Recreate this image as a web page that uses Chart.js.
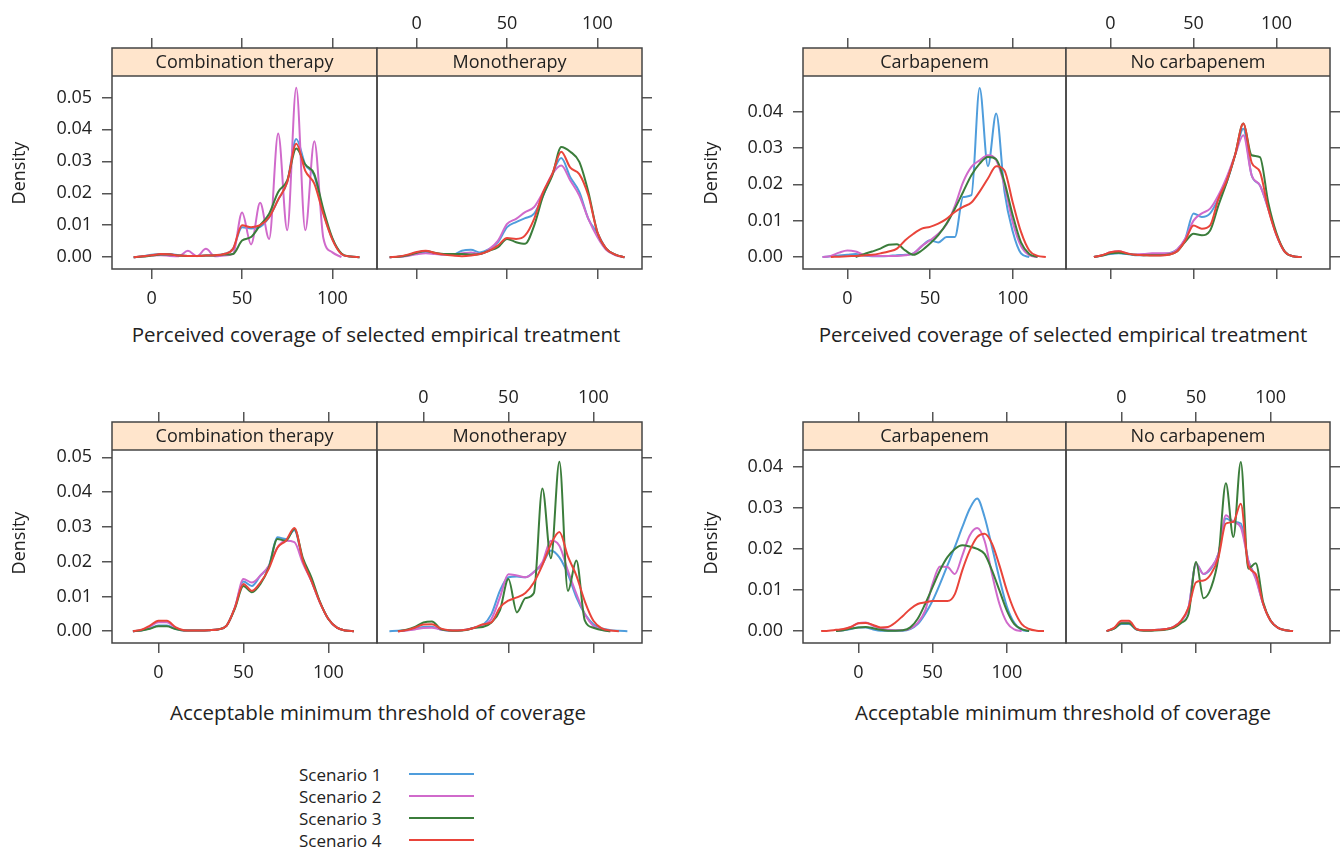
<!DOCTYPE html>
<html>
<head>
<meta charset="utf-8">
<script src="https://cdn.jsdelivr.net/npm/chart.js@4.4.1/dist/chart.umd.min.js"></script>
<style>
  body { margin:0; background:#fff; width:1343px; height:850px; position:relative; overflow:hidden;
         font-family:"Open Sans", sans-serif; color:#222; }
  canvas { position:absolute; }
  .txt { position:absolute; white-space:nowrap; transform:translate(-50%,-50%); }
  .title { font-size:20.5px; }
  .ylab { font-size:18px; transform:translate(-50%,-50%) rotate(-90deg); }
  .key { position:absolute; font-size:17px; white-space:nowrap; transform:translateY(-50%); }
  .keyline { position:absolute; width:65px; height:2px; }
</style>
</head>
<body>
<script>
  // ---- data ----
  const scenarios = ['Scenario 1', 'Scenario 2', 'Scenario 3', 'Scenario 4'];
  const colors = ['#4f9ddc', '#d06acb', '#3b7d3b', '#e9443a'];
  const stripTherapy = ['Combination therapy', 'Monotherapy'];
  const stripCarb = ['Carbapenem', 'No carbapenem'];
  const titlePerceived = 'Perceived coverage of selected empirical treatment';
  const titleAcceptable = 'Acceptable minimum threshold of coverage';
  const xTicks = [0, 50, 100];
  const yTicks5 = [0, 0.01, 0.02, 0.03, 0.04, 0.05];
  const yTicks4 = [0, 0.01, 0.02, 0.03, 0.04];

  // perceived coverage, combination therapy
  const xPercComb = [-10,-5,0,5,10,15,20,25,30,35,40,45,50,55,60,65,70,75,80,85,90,95,100,105,110,115];
  const percCombS1 = [0,0.0003,0.0008,0.001,0.001,0.0006,0.0004,0.0004,0.0005,0.0006,0.001,0.0026,0.0094,0.009,0.0095,0.0125,0.018,0.0235,0.037,0.029,0.0255,0.014,0.0057,0.001,0.0002,0];
  const percCombS2 = [0,0.0002,0.0005,0.0006,0.0004,0.0003,0.002,0.0003,0.0026,0.0003,0.0005,0.001,0.014,0.004,0.017,0.0057,0.0387,0.0084,0.053,0.0084,0.0363,0.006,0.0015,0,null,null];
  const percCombS3 = [0,0.0002,0.0005,0.0008,0.0008,0.0005,0.0004,0.0004,0.0005,0.0005,0.0008,0.001,0.0052,0.0063,0.01,0.0136,0.0204,0.024,0.034,0.029,0.026,0.015,0.006,0.0012,0.0002,0];
  const percCombS4 = [0,0.0003,0.0006,0.001,0.0009,0.0005,0.0004,0.0004,0.0005,0.0006,0.001,0.0026,0.01,0.0094,0.01,0.0125,0.018,0.0235,0.0355,0.027,0.023,0.0135,0.0055,0.001,0.0002,0];

  // perceived coverage, monotherapy
  const xPercMono = [-15,-10,-5,0,5,10,15,20,25,30,35,40,45,50,55,60,65,70,75,80,85,90,95,100,105,110,115];
  const percMonoS1 = [0,0.0001,0.0005,0.0012,0.0015,0.0012,0.0008,0.0008,0.002,0.0023,0.0015,0.0025,0.0047,0.0094,0.011,0.0122,0.0136,0.0193,0.026,0.031,0.025,0.0204,0.012,0.0075,0.0026,0.0008,0];
  const percMonoS2 = [0,0.0001,0.0004,0.0009,0.0012,0.001,0.0008,0.0008,0.0012,0.0015,0.001,0.0025,0.0052,0.0104,0.012,0.0141,0.0157,0.0204,0.026,0.0287,0.024,0.0193,0.012,0.0063,0.0022,0.0006,0];
  const percMonoS3 = [0,0.0001,0.0006,0.0014,0.0019,0.0014,0.001,0.001,0.001,0.0008,0.001,0.002,0.0031,0.0057,0.0047,0.0042,0.0099,0.0193,0.0255,0.0345,0.033,0.0298,0.0204,0.0078,0.0026,0.0008,0];
  const percMonoS4 = [0,0.0002,0.0008,0.0016,0.002,0.0013,0.0008,0.0005,0.0003,0.0005,0.001,0.002,0.0037,0.006,0.0057,0.0068,0.012,0.0204,0.026,0.033,0.028,0.026,0.0193,0.0078,0.0026,0.0008,0];

  // perceived coverage, carbapenem
  const xPercCarb = [-15,-10,-5,0,5,10,15,20,25,30,35,40,45,50,55,60,65,70,75,80,85,90,95,100,105,110,115,120];
  const percCarbS1 = [0,0.0002,0.0004,0.0006,0.0008,0.0004,0.0002,0.0002,0.0003,0.0005,0.0006,0.001,0.003,0.0046,0.004,0.0055,0.0055,0.0165,0.017,0.0465,0.025,0.0395,0.018,0.007,0.001,0,null,null];
  const percCarbS2 = [0,0.0003,0.0012,0.0018,0.0015,0.0006,0.0003,0.0003,0.0003,0.0003,0.0005,0.001,0.003,0.0046,0.0064,0.009,0.014,0.0206,0.0248,0.0266,0.028,0.0266,0.0197,0.0096,0.003,0.0005,0,null];
  const percCarbS3 = [null,null,null,null,0,0.0008,0.0015,0.0023,0.0034,0.0035,0.0018,0.0006,0.0018,0.0037,0.006,0.0092,0.0133,0.0179,0.0225,0.0257,0.0275,0.0269,0.0206,0.0115,0.004,0.0008,0,null];
  const percCarbS4 = [null,0,0.0001,0.0002,0.0003,0.0004,0.0006,0.001,0.0015,0.0023,0.0046,0.0064,0.0078,0.0083,0.0092,0.0105,0.0124,0.0138,0.015,0.018,0.0216,0.025,0.0238,0.015,0.0069,0.0018,0.0003,0];

  // perceived coverage, no carbapenem
  const xPercNoCarb = [-10,-5,0,5,10,15,20,25,30,35,40,45,50,55,60,65,70,75,80,85,90,95,100,105,110,115];
  const percNoCarbS1 = [0,0.0004,0.0008,0.001,0.0008,0.0005,0.0005,0.0006,0.0008,0.001,0.002,0.005,0.012,0.011,0.012,0.016,0.0206,0.028,0.0353,0.0225,0.0197,0.0133,0.006,0.0014,0.0002,0];
  const percNoCarbS2 = [0,0.0005,0.0013,0.0016,0.001,0.0007,0.0008,0.001,0.001,0.001,0.002,0.005,0.01,0.012,0.0133,0.017,0.022,0.028,0.0335,0.0225,0.0197,0.0133,0.006,0.0014,0.0002,0];
  const percNoCarbS3 = [0,0.0004,0.001,0.0012,0.0009,0.0006,0.0005,0.0005,0.0005,0.0007,0.0015,0.0042,0.0064,0.006,0.0073,0.0142,0.0206,0.028,0.0367,0.028,0.0275,0.015,0.0065,0.0015,0.0002,0];
  const percNoCarbS4 = [0,0.0005,0.0013,0.0016,0.001,0.0006,0.0005,0.0004,0.0004,0.0006,0.0015,0.0045,0.0087,0.0078,0.0087,0.016,0.021,0.028,0.0367,0.026,0.0234,0.0133,0.006,0.0014,0.0002,0];

  // acceptable threshold, combination therapy
  const xAccComb = [-15,-10,-5,0,5,10,15,20,25,30,35,40,45,50,55,60,65,70,75,80,85,90,95,100,105,110,115];
  const accCombS1 = [0,0.0002,0.0008,0.0016,0.0016,0.0007,0.0002,0.0002,0.0002,0.0003,0.0005,0.0015,0.0068,0.0143,0.013,0.016,0.0188,0.027,0.0265,0.029,0.0203,0.0145,0.0083,0.0035,0.001,0.0002,0];
  const accCombS2 = [0,0.0003,0.0013,0.0026,0.0026,0.001,0.0002,0.0002,0.0002,0.0003,0.0005,0.0015,0.0068,0.015,0.014,0.016,0.0188,0.024,0.026,0.0256,0.0195,0.0145,0.0083,0.0035,0.001,0.0002,0];
  const accCombS3 = [0,0.0002,0.0007,0.0014,0.0014,0.0006,0.0002,0.0002,0.0002,0.0003,0.0005,0.0015,0.0065,0.013,0.0112,0.0136,0.0184,0.0265,0.026,0.0294,0.021,0.0155,0.0085,0.0035,0.001,0.0002,0];
  const accCombS4 = [0,0.0004,0.0016,0.003,0.003,0.0012,0.0003,0.0002,0.0002,0.0003,0.0005,0.0015,0.0068,0.0136,0.0116,0.014,0.018,0.024,0.026,0.0297,0.0203,0.0145,0.0083,0.0035,0.001,0.0002,0];

  // acceptable threshold, monotherapy
  const xAccMono = [-20,-15,-10,-5,0,5,10,15,20,25,30,35,40,45,50,55,60,65,70,75,80,85,90,95,100,105,110,115,120,125];
  const accMonoS1 = [0,0.0001,0.0003,0.0007,0.0012,0.0013,0.0005,0.0002,0.0002,0.0004,0.001,0.0018,0.0049,0.0116,0.0155,0.0157,0.0155,0.017,0.0193,0.0232,0.0212,0.0164,0.0097,0.0049,0.002,0.0008,0.0003,0.0001,0,null];
  const accMonoS2 = [null,0,0.0002,0.0005,0.0009,0.001,0.0005,0.0002,0.0002,0.0004,0.001,0.0017,0.0035,0.0097,0.0164,0.016,0.0155,0.017,0.0198,0.026,0.0246,0.0174,0.0107,0.0049,0.0015,0.0004,0,null,null,null];
  const accMonoS3 = [null,0,0.0004,0.0012,0.0025,0.0028,0.0007,0.0002,0.0001,0.0003,0.001,0.0012,0.0025,0.006,0.015,0.0054,0.0095,0.011,0.041,0.021,0.0487,0.0116,0.0203,0.003,0.001,0.0003,0,null,null,null];
  const accMonoS4 = [null,0,0.0003,0.001,0.0019,0.002,0.0008,0.0003,0.0002,0.0004,0.001,0.002,0.0025,0.0068,0.0088,0.0097,0.011,0.014,0.019,0.025,0.0285,0.0215,0.016,0.0085,0.003,0.0008,0.0002,0,null,null];

  // acceptable threshold, carbapenem
  const xAccCarb = [-25,-20,-15,-10,-5,0,5,10,15,20,25,30,35,40,45,50,55,60,65,70,75,80,85,90,95,100,105,110,115,120,125];
  const accCarbS1 = [null,null,0,0.0002,0.0005,0.0009,0.0009,0.0004,0.0001,0.0001,0.0001,0.0001,0.0005,0.0017,0.0042,0.0074,0.0115,0.016,0.0205,0.0253,0.0298,0.0323,0.0278,0.0205,0.0128,0.006,0.002,0.0003,0,null,null];
  const accCarbS2 = [null,null,0,0.0003,0.001,0.0019,0.0021,0.0013,0.0007,0.0003,0.0002,0.0002,0.0006,0.002,0.005,0.0115,0.0157,0.0156,0.0139,0.0184,0.0233,0.0251,0.022,0.0139,0.0066,0.0021,0.0004,0,null,null,null];
  const accCarbS3 = [null,null,0,0.0002,0.0006,0.0009,0.001,0.0007,0.0003,0.0001,0.0001,0.0002,0.0009,0.003,0.0066,0.0107,0.0148,0.018,0.02,0.0209,0.0206,0.02,0.0188,0.0148,0.0099,0.005,0.0017,0.0005,0,null,null];
  const accCarbS4 = [0,0.0001,0.0003,0.0005,0.001,0.0019,0.002,0.0015,0.0009,0.001,0.0021,0.0037,0.0054,0.0066,0.007,0.0073,0.0073,0.0073,0.009,0.0148,0.0196,0.0229,0.0237,0.0213,0.016,0.0099,0.005,0.0017,0.0005,0.0001,0];

  // acceptable threshold, no carbapenem
  const xAccNoCarb = [-15,-10,-5,0,5,10,15,20,25,30,35,40,45,50,55,60,65,70,75,80,85,90,95,100,105,110,115];
  const accNoCarbS1 = [null,0,0.0006,0.0017,0.0017,0.0004,0.0002,0.0002,0.0003,0.0005,0.001,0.0025,0.0058,0.0164,0.0139,0.0152,0.0188,0.0274,0.0266,0.0262,0.0172,0.0131,0.0066,0.0025,0.0008,0.0002,0];
  const accNoCarbS2 = [null,0,0.0007,0.0021,0.0021,0.0005,0.0002,0.0002,0.0003,0.0005,0.001,0.0025,0.0058,0.0164,0.0139,0.0155,0.0188,0.0282,0.0266,0.0253,0.0172,0.0127,0.0066,0.0025,0.0008,0.0002,0];
  const accNoCarbS3 = [null,0,0.0006,0.0019,0.0019,0.0004,0.0001,0.0001,0.0002,0.0004,0.0008,0.002,0.0042,0.0168,0.008,0.0105,0.018,0.036,0.0229,0.0412,0.0152,0.0165,0.007,0.0025,0.0008,0.0002,0];
  const accNoCarbS4 = [null,0,0.0008,0.0025,0.0025,0.0005,0.0002,0.0002,0.0003,0.0005,0.001,0.0025,0.0058,0.0119,0.0123,0.0139,0.018,0.0262,0.0266,0.031,0.016,0.0139,0.0066,0.0025,0.0008,0.0002,0];

  // ---- layout of the four lattice plots (page pixels) ----
  const FONT = '"Open Sans", sans-serif';
  const TXT = '#222';
  const TICK = '#555';
  const BOX = '#444';
  Chart.defaults.font.family = FONT;

  const tl = { left:112, mid:377, right:642, stripTop:48, stripBot:76, bottom:269, xMin:-22, xMax:124.7, yMin:-0.0037, yMax:0.0567, yTicks:yTicks5 };
  const tr = { left:803, mid:1066, right:1330, stripTop:48, stripBot:76, bottom:269, xMin:-26.8, xMax:132.2, yMin:-0.0033, yMax:0.0498, yTicks:yTicks4 };
  const bl = { left:112, mid:377, right:642, stripTop:422, stripBot:450, bottom:643, xMin:-27.3, xMax:128.6, yMin:-0.0034, yMax:0.0521, yTicks:yTicks5 };
  const br = { left:803, mid:1066, right:1330, stripTop:422, stripBot:450, bottom:643, xMin:-37.2, xMax:139.8, yMin:-0.0029, yMax:0.0441, yTicks:yTicks4 };

  function points(xs, ys) {
    const out = [];
    xs.forEach((x, i) => { if (ys[i] !== null) out.push({ x: x, y: ys[i] }); });
    return out;
  }

  function xAxis(g, pos, show) {
    return {
      type: 'linear', position: pos, min: g.xMin, max: g.xMax,
      afterBuildTicks: s => { s.ticks = xTicks.map(v => ({ value: v })); },
      afterFit: s => { s.height = pos === 'top' ? 48 : 50; },
      grid: { drawOnChartArea: false, tickLength: 10, color: TICK, lineWidth: 1.5 },
      border: { display: false },
      ticks: { display: show, padding: pos === 'top' ? 3 : 9, autoSkip: false, maxRotation: 0,
               font: { size: 18 }, color: TXT, callback: v => String(v) }
    };
  }

  function addPanel(g, isLeft, strip, xs, series) {
    const L = isLeft ? 112 : 2, R = isLeft ? 2 : 14, T = 48, B = 50;
    const pl = isLeft ? g.left : g.mid, pr = isLeft ? g.mid : g.right;
    const cw = pr - pl + L + R, ch = g.bottom - g.stripTop + T + B;
    const cv = document.createElement('canvas');
    cv.width = cw; cv.height = ch;
    cv.style.left = (pl - L) + 'px'; cv.style.top = (g.stripTop - T) + 'px';
    cv.style.width = cw + 'px'; cv.style.height = ch + 'px';
    document.body.appendChild(cv);

    const stripH = g.stripBot - g.stripTop, plotH = g.bottom - g.stripBot;
    const yTop = g.yMax + (g.yMax - g.yMin) * stripH / plotH;

    const lattice = {
      id: 'lattice',
      afterDatasetsDraw(chart) {
        const { ctx, chartArea: a } = chart;
        ctx.save();
        ctx.fillStyle = '#ffe5cc';
        ctx.fillRect(a.left, a.top, a.right - a.left, stripH);
        ctx.strokeStyle = BOX; ctx.lineWidth = 1.5;
        ctx.strokeRect(a.left, a.top, a.right - a.left, a.bottom - a.top);
        ctx.beginPath(); ctx.moveTo(a.left, a.top + stripH); ctx.lineTo(a.right, a.top + stripH); ctx.stroke();
        ctx.fillStyle = TXT; ctx.font = '18px ' + FONT;
        ctx.textAlign = 'center'; ctx.textBaseline = 'middle';
        ctx.fillText(strip, (a.left + a.right) / 2, a.top + stripH / 2 + 1);
        ctx.restore();
      }
    };

    new Chart(cv, {
      type: 'line',
      data: {
        datasets: series.map((ys, i) => ({
          label: scenarios[i], data: points(xs, ys), borderColor: colors[i], borderWidth: 2,
          pointRadius: 0, fill: false, cubicInterpolationMode: 'monotone', order: 4 - i,
          xAxisID: 'x', yAxisID: 'y'
        }))
      },
      options: {
        responsive: false, animation: false, devicePixelRatio: 1,
        layout: { padding: { left: isLeft ? 0 : L, right: isLeft ? R : 0, top: 0, bottom: 0 } },
        plugins: { legend: { display: false }, tooltip: { enabled: false } },
        scales: {
          x: xAxis(g, 'bottom', isLeft),
          xTop: xAxis(g, 'top', !isLeft),
          y: {
            position: isLeft ? 'left' : 'right', min: g.yMin, max: yTop,
            afterBuildTicks: s => { s.ticks = g.yTicks.map(v => ({ value: v })); },
            afterFit: s => { s.width = isLeft ? L : R; },
            grid: { drawOnChartArea: false, tickLength: 10, color: TICK, lineWidth: 1.5 },
            border: { display: false },
            ticks: { display: isLeft, padding: 10, font: { size: 18 }, color: TXT, callback: v => v.toFixed(2) }
          }
        }
      },
      plugins: [lattice]
    });
  }

  function addText(cls, text, x, y) {
    const d = document.createElement('div');
    d.className = 'txt ' + cls;
    d.textContent = text;
    d.style.left = x + 'px'; d.style.top = y + 'px';
    document.body.appendChild(d);
  }

  addPanel(tl, true, stripTherapy[0], xPercComb, [percCombS1, percCombS2, percCombS3, percCombS4]);
  addPanel(tl, false, stripTherapy[1], xPercMono, [percMonoS1, percMonoS2, percMonoS3, percMonoS4]);
  addPanel(tr, true, stripCarb[0], xPercCarb, [percCarbS1, percCarbS2, percCarbS3, percCarbS4]);
  addPanel(tr, false, stripCarb[1], xPercNoCarb, [percNoCarbS1, percNoCarbS2, percNoCarbS3, percNoCarbS4]);
  addPanel(bl, true, stripTherapy[0], xAccComb, [accCombS1, accCombS2, accCombS3, accCombS4]);
  addPanel(bl, false, stripTherapy[1], xAccMono, [accMonoS1, accMonoS2, accMonoS3, accMonoS4]);
  addPanel(br, true, stripCarb[0], xAccCarb, [accCarbS1, accCarbS2, accCarbS3, accCarbS4]);
  addPanel(br, false, stripCarb[1], xAccNoCarb, [accNoCarbS1, accNoCarbS2, accNoCarbS3, accNoCarbS4]);

  addText('title', titlePerceived, 376, 334);
  addText('title', titlePerceived, 1063, 334);
  addText('title', titleAcceptable, 378, 712);
  addText('title', titleAcceptable, 1063, 712);
  addText('ylab', 'Density', 18, 173);
  addText('ylab', 'Density', 710, 173);
  addText('ylab', 'Density', 18, 543);
  addText('ylab', 'Density', 710, 543);

  // key
  scenarios.forEach((s, i) => {
    const y = 774 + i * 22;
    const t = document.createElement('div');
    t.className = 'key'; t.textContent = s;
    t.style.left = '299px'; t.style.top = y + 'px';
    document.body.appendChild(t);
    const l = document.createElement('div');
    l.className = 'keyline';
    l.style.left = '409px'; l.style.top = (y - 1) + 'px'; l.style.background = colors[i];
    document.body.appendChild(l);
  });
</script>
</body>
</html>
